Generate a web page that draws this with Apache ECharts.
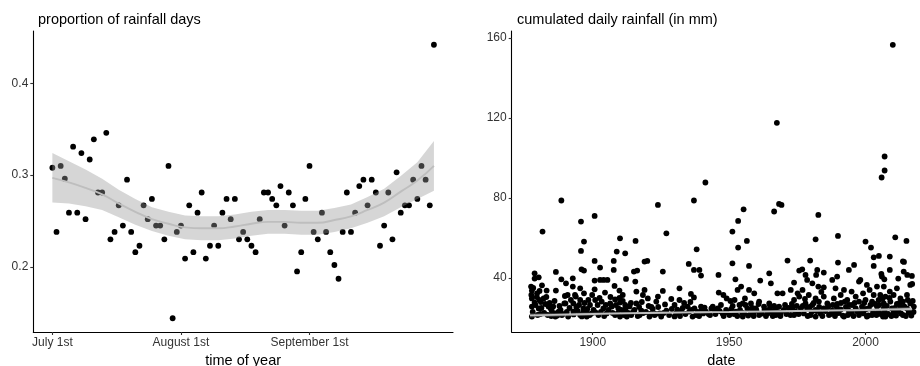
<!DOCTYPE html>
<html><head><meta charset="utf-8">
<script src="https://cdn.jsdelivr.net/npm/echarts@6/dist/echarts.min.js"></script>
<style>html,body{margin:0;padding:0;background:#fff}#c{width:920px;height:366px}</style>
</head><body><div id="c"></div>
<script>
// ---- left panel: proportion of rainfall days (day index 0 = July 1st) ----
const dayTickValues = [0, 31, 62];
const dayTickLabels = ['July 1st', 'August 1st', 'September 1st'];
const propTicks = [0.2, 0.3, 0.4];
const propValues = [
  0.308,0.238,0.310,0.296,0.259,0.331,0.259,0.324,0.252,0.317,
  0.339,0.281,0.281,0.346,0.230,0.238,0.267,0.245,0.295,0.238,
  0.216,0.223,0.267,0.252,0.274,0.245,0.245,0.230,0.310,0.144,
  0.238,0.245,0.209,0.267,0.216,0.259,0.281,0.209,0.223,0.245,
  0.223,0.259,0.274,0.252,0.274,0.230,0.238,0.230,0.223,0.216,
  0.252,0.281,0.281,0.274,0.267,0.288,0.245,0.281,0.267,0.195,
  0.216,0.274,0.310,0.238,0.230,0.259,0.238,0.216,0.202,0.187,
  0.238,0.281,0.238,0.259,0.288,0.295,0.267,0.295,0.281,0.223,
  0.245,0.281,0.230,0.303,0.259,0.267,0.267,0.295,0.274,0.310,
  0.295,0.267,0.442];
const propFitDays = [0,4,8,12,16,20,24,28,32,36,40,44,48,52,56,60,64,68,72,76,80,84,88,92];
const propFit = [0.297,0.292,0.286,0.279,0.269,0.260,0.252,0.247,0.243,0.242,0.242,0.244,0.247,0.249,0.249,0.248,0.248,0.251,0.255,0.262,0.270,0.282,0.294,0.310];
const propSe  = [0.027,0.023,0.020,0.017,0.015,0.014,0.013,0.013,0.013,0.013,0.013,0.013,0.013,0.013,0.013,0.013,0.013,0.013,0.013,0.014,0.015,0.017,0.020,0.027];

// ---- right panel: cumulated daily rainfall ----
const yearTicks = [1900, 1950, 2000];
const rainTicks = [40, 80, 120, 160];
const rainPoints = [
 [1888.5,78.7],[1881.6,63.2],[1878.7,42.3],[1886.5,43],[1880.2,40.3],[1878.7,39.7],[1888.5,39.3],[1877.4,35.7],[1881.4,36.3],[1890.2,37.3],
 [1886.5,33.7],[1883.1,33.7],[1877.7,33.7],[1879.6,32.3],[1882,29.8],[1877.7,29.8],[1878.7,27.7],[1880.4,29],[1877.7,25.7],[1883.8,25.7],
 [1890,27.3],[1885,23.5],[1886.3,22.3],[1887.5,23.2],[1877.7,20.7],[1884.8,21],[1886.3,20.7],[1888.7,21.5],[1891,20.7],[1880.2,24.8],
 [1882.6,27],[1884.6,24.8],[1889.6,27.3],[1890.8,31.5],[1879.5,30.5],[1881,28],[1878,23],[1880.8,22],
 [1900.7,71],[1895.7,68.2],[1896.8,58.2],[1910,59.8],[1895.7,53.5],[1908.8,53.2],[1911.9,52.3],[1900.7,48.5],[1907.7,48.5],[1902.7,45.2],
 [1895.9,44.3],[1896.8,43.7],[1907.7,44],[1892.7,39.8],[1912.2,39.5],[1900.7,38.7],[1902.7,39],[1904,39],[1905.4,39],[1892.7,35.7],
 [1895.4,34.8],[1896.8,32.3],[1900.7,34.3],[1908,36],[1909.8,33.7],[1911,31.5],[1904.5,32.7],[1893.5,31.5],[1892.9,27.3],[1895.4,29],
 [1898.4,29],[1900.9,29],[1903.3,28.2],[1906.4,27.3],[1908.2,29.3],[1910,27.7],[1911.9,26.5],[1896.6,24.8],[1900.3,24],[1903.9,24.8],
 [1907,25.7],[1909.4,24.8],[1911.3,23.7],[1892.9,23.2],[1895.4,21.5],[1897.8,20.7],[1902.1,21.5],[1905.1,22.3],[1908.2,21.5],[1910,20.7],
 [1912.5,20.7],[1896.5,22.8],[1899.5,22.2],[1894,25.5],[1893.8,30.7],[1897.8,22.7],[1898.9,21.5],
 [1923.9,76.5],[1927,62.3],[1915.7,58.5],[1919,48.2],[1920,48.5],[1925.7,43.2],[1915.1,43.2],[1916.3,43.7],[1915.6,38.2],[1931.8,34.8],
 [1916,33.2],[1919,34],[1918.4,31.5],[1920.2,29.8],[1923.9,30.7],[1925.7,33.5],[1928.8,29.5],[1931.8,29],[1923.3,28.2],[1930,26.5],
 [1916,27.3],[1915.3,24],[1917.8,23.7],[1920.8,20.7],[1922.7,21.5],[1924.5,22.3],[1927,23.7],[1930.6,22.3],[1932.5,23.2],[1914.1,21.5],
 [1917.2,21.5],[1925.1,20.7],[1929,24.5],[1921.5,25.5],[1913.5,25.8],[1918.5,22.5],
 [1941.3,87.7],[1937.1,78.7],[1955.3,74.3],[1953.3,68.5],[1951.2,63.2],[1953.3,55.2],[1938.1,54.3],[1935.2,47],[1951.2,47.3],[1937.1,44],
 [1939.1,44],[1939.7,41.2],[1946.1,41.5],[1952.3,39.3],[1936,32],[1937.1,30.3],[1946.2,32.7],[1947.9,31.5],[1949.1,29.8],[1953.1,34],
 [1954.4,35.7],[1934.8,25.7],[1937.3,24.8],[1939.7,25.7],[1944,25.7],[1945.8,24.8],[1948.9,24],[1951.3,26],[1953.8,26.5],[1955,27.3],
 [1935.4,23.2],[1937.9,21.5],[1941.5,23.2],[1944.6,24],[1947.6,22.3],[1950.1,21.5],[1952.5,23.2],[1955,20.7],[1936.6,20.7],[1942.5,22],
 [1950.5,28.5],[1933.5,27.5],
 [1968.3,77],[1969.2,76.5],[1966.5,73.2],[1956.5,58.5],[1971.4,48.7],[1957.3,46],[1964.7,42.3],[1975.7,43.7],[1961.4,38.7],[1965.3,37.3],
 [1973.8,37.7],[1957.3,34],[1959.2,32.3],[1967.7,32.3],[1969.6,32.3],[1972.6,34],[1975.1,32.3],[1955.8,29.8],[1958,27.3],[1961,28.2],
 [1964.7,27.3],[1966.5,26],[1973.8,29],[1975.7,30.7],[1956.7,24.8],[1959.8,24.8],[1962.8,25.7],[1964.7,24],[1968.3,25.7],[1973.2,24.8],
 [1976.3,24.8],[1955.5,22.3],[1958,22.7],[1961,21.5],[1964.1,22.3],[1967.1,21.5],[1969,22.7],[1973.8,21.5],[1974.4,23.2],[1959.2,23.2],
 [1967.5,117.5],[1970.5,26.5],[1966,21],
 [1982.7,71.5],[1981.7,59.3],[1989.9,61],[1979.7,48.7],[1989.9,47.7],[1995.8,46.5],[1993.9,44],[1976.8,44.3],[1978,41.5],[1982.3,44],
 [1984.7,42.7],[1981.9,41.5],[1987.8,39],[1989.6,40.7],[1997.6,38.2],[1978.6,39],[1980.5,37.3],[1982.7,35.7],[1984.7,35.3],[1989,34.8],
 [1992.1,34],[1994.9,33.2],[1976.9,34],[1979.2,31.5],[1981.7,29.8],[1984.7,30.7],[1988.4,29.8],[1990.9,31.5],[1993.3,29],[1996.4,30.7],
 [1978,27.3],[1980.5,26.5],[1982.9,28.2],[1986,27.3],[1989.6,27],[1992.4,28.2],[1995.1,26.5],[1997.6,28.2],[1978.6,24.8],[1981.7,24],
 [1984.7,24.8],[1987.8,23.7],[1990.9,24.3],[1993.9,23.7],[1996.4,24.8],[1977.4,22.3],[1979.9,21.5],[1981.7,20.7],[1983.5,22.3],[1986.6,21.5],
 [1989,22.3],[1992.1,20.7],[1994.5,22.3],[1997.6,21.5],
 [2000,58.2],[2002,55.2],[2010.9,60.3],[2015,58.5],[2003,50.3],[2004.9,51],[2008.9,50.7],[2003,46],[2013.7,48.3],[2014,43.2],
 [2008.9,44],[1998.1,39],[2000.5,36.5],[2006,40.7],[2006.9,39.3],[2015.3,41.5],[2017,41],[2001.5,34],[2004.2,35.7],[2006.7,35.7],
 [2008.9,33.2],[2011.5,34.8],[2016.4,36.5],[1999.1,32.3],[2003,31.5],[2005.4,31.5],[2007.3,30.7],[2010.3,31.5],[2012.8,29.8],[2015.2,31.5],
 [2000,29],[2002.4,28.2],[2004.8,29],[2006.7,27.3],[2009.1,28.2],[2011.5,27],[2013.7,28.2],[2016.4,27.3],[1998.7,25.7],[2001.2,24.8],
 [2004.2,25.7],[2006.7,24.8],[2009.7,24.8],[2012.8,25.7],[2015.2,24.8],[2017.7,25.7],[1999.3,22.3],[2002.4,21.5],[2004.8,23.2],[2006.4,20.7],
 [2007.3,20.7],[2010.3,22.7],[2013.7,21.5],[2015.8,22.7],[2000.5,20.7],[2005.9,90.2],[2007,100.7],[2007,93.7],[2010,156.5],[2005.8,42],
 [2012,39.7],[2014.1,48],[2017.1,37],
 [1877.5,31.5],[1878.2,35],[1879,26.5],[1879.8,21.5],[1880.5,33.5],[1881.2,25],[1882.2,22.5],[1883,30.5],[1883.5,21.5],[1884.2,27.5],
 [1885.5,25.8],[1886,28.5],[1887,21.2],[1887.8,26],[1888.2,24],[1889,22],[1889.8,31],[1890.5,23],[1891.5,25],[1892,29],
 [1893,21.8],[1894.5,23.5],[1895,26.5],[1896,20.8],[1897,27.5],[1898,24.5],[1899,26.5],[1899.8,31.5],[1901,22.8],[1901.8,26.5],
 [1902.5,30],[1903,23],[1904.2,21],[1904.8,26.5],[1905.8,24],[1906.5,30.5],[1907.3,22.5],[1908.5,26.5],[1909,22.2],[1909.8,30],
 [1910.5,24],[1911,28.5],[1911.5,21.5],[1912,24.5],
 [1913,22.5],[1914,27.5],[1914.8,23],[1916.5,21],[1917,25.5],[1918,28],[1919.5,23],[1920.5,26],[1921,22],[1922,24.5],
 [1923,22],[1924,25.5],[1926,22.5],[1926.5,26.8],[1928,21.5],[1930,20.8],[1931,24.2],[1932,21],[1933,25],
 [1934,22],[1935.8,28],[1936.2,24],[1938.5,23],[1939,21],[1940,24.5],[1940.5,22.3],[1941,25.2],[1943,21.5],[1943.5,24.8],
 [1945,22],[1946.5,23.5],[1947,26.5],[1948,21],[1949.5,22.8],[1950.8,24.5],[1951.8,22],[1952,29],[1953,21],[1954,24],[1954.8,22.5],
 [1956,26.5],[1957,21.2],[1958.5,25],[1959,21],[1960,23.8],[1960.8,27],[1962,22.2],[1963,24.2],[1963.5,21],[1965,25.5],
 [1965.8,23],[1966.8,24.5],[1967.8,23],[1968.8,21],[1970,24],[1971,22],[1971.8,25],[1972.5,21.5],[1973,27],[1974.8,26],[1975.5,22],
 [1977,26],[1977.8,29.5],[1978.8,21],[1979.5,25.5],[1980.3,23.3],[1981,27.5],[1982,23.5],[1983,25.5],[1983.8,33],[1984.2,21],
 [1985.3,23.5],[1986.3,25.5],[1987.2,22],[1988,26.5],[1988.8,21],[1989.5,25.2],[1990.2,22.5],[1991,27.5],[1991.7,21.2],[1992.8,25.5],
 [1993.5,21.5],[1994,26.5],[1995,23],[1995.6,21],[1996,27.5],[1997,23.3],
 [1998.5,23.5],[1999.5,27.5],[2000.2,24.5],[2001,21.3],[2001.8,26.5],[2002.8,23],[2003.5,27],[2004,21.5],[2005,26.5],[2005.5,22],
 [2006.2,29.5],[2007,23.3],[2007.8,26],[2008.3,22],[2008.8,30],[2009.5,21],[2010.8,25],[2011.2,21.2],[2012,23.5],[2012.5,27.5],
 [2013,22.3],[2014.2,25.8],[2014.8,21],[2015.5,29],[2016,23.3],[2016.8,21.2],[2017.3,28.5],[2017.6,23]
];
const rainFitYears = [1877,1890,1900,1910,1920,1930,1940,1950,1960,1970,1980,1990,2000,2010,2017];
const rainFit = [21.3,21.7,22.0,22.3,22.5,22.7,22.9,23.0,23.2,23.4,23.6,23.8,24.0,24.3,24.5];
const rainSe  = [1.0,0.8,0.7,0.6,0.6,0.5,0.5,0.5,0.5,0.5,0.5,0.6,0.6,0.8,1.0];

const FONT = 'Liberation Sans, Arial, sans-serif';
const bandFill = 'rgba(153,153,153,0.4)';
const lineCol = '#bebebe';

function bandSeries(xs, fit, se, axisIdx) {
  return {
    type: 'custom', xAxisIndex: axisIdx, yAxisIndex: axisIdx, z: 3, silent: true,
    data: xs.map((x, i) => [x, fit[i]]),
    renderItem: function (params, api) {
      if (params.dataIndex !== 0) return null;
      const pts = [];
      for (let i = 0; i < xs.length; i++) pts.push(api.coord([xs[i], fit[i] + se[i]]));
      for (let i = xs.length - 1; i >= 0; i--) pts.push(api.coord([xs[i], fit[i] - se[i]]));
      return { type: 'polygon', shape: { points: pts }, style: { fill: bandFill } };
    }
  };
}

function axisCommon() {
  return {
    axisLine: { show: true, onZero: false, lineStyle: { color: '#000', width: 1.1 } },
    axisTick: { show: true, length: 3, lineStyle: { color: '#333', width: 1.1 } },
    splitLine: { show: false },
    nameTextStyle: { fontFamily: FONT, fontSize: 14.5, color: '#000' }
  };
}

const chart = echarts.init(document.getElementById('c'), null, { renderer: 'canvas' });
const xa0 = Object.assign(axisCommon(), {
  type: 'value', gridIndex: 0, min: -4.6, max: 96.6,
  name: 'time of year', nameLocation: 'middle', nameGap: 19
});
xa0.axisTick.customValues = dayTickValues;
xa0.axisLabel = { customValues: dayTickValues, formatter: v => dayTickLabels[dayTickValues.indexOf(v)], fontFamily: FONT, fontSize: 12, color: '#333', margin: 5 };

const ya0 = Object.assign(axisCommon(), { type: 'value', gridIndex: 0, min: 0.129, max: 0.457 });
ya0.axisTick.customValues = propTicks;
ya0.axisLabel = { customValues: propTicks, formatter: v => v.toFixed(1), fontFamily: FONT, fontSize: 12, color: '#333', margin: 5 };

const xa1 = Object.assign(axisCommon(), {
  type: 'value', gridIndex: 1, min: 1870.3, max: 2024,
  name: 'date', nameLocation: 'middle', nameGap: 19
});
xa1.axisTick.customValues = yearTicks;
xa1.axisLabel = { customValues: yearTicks, formatter: v => String(v), fontFamily: FONT, fontSize: 12, color: '#333', margin: 5 };

const ya1 = Object.assign(axisCommon(), { type: 'value', gridIndex: 1, min: 13, max: 163.4 });
ya1.axisTick.customValues = rainTicks;
ya1.axisLabel = { customValues: rainTicks, formatter: v => String(v), fontFamily: FONT, fontSize: 12, color: '#333', margin: 5 };

chart.setOption({
  backgroundColor: '#fff',
  animation: false,
  title: [
    { text: 'proportion of rainfall days', left: 33, top: 7, textStyle: { fontFamily: FONT, fontSize: 14.5, fontWeight: 'normal', color: '#000' } },
    { text: 'cumulated daily rainfall (in mm)', left: 512, top: 7, textStyle: { fontFamily: FONT, fontSize: 14.5, fontWeight: 'normal', color: '#000' } }
  ],
  grid: [
    { left: 33.3, top: 31, width: 419.7, height: 301, outerBoundsMode: 'none', containLabel: false },
    { left: 511.7, top: 31, width: 419.3, height: 301, outerBoundsMode: 'none', containLabel: false }
  ],
  xAxis: [xa0, xa1],
  yAxis: [ya0, ya1],
  series: [
    { type: 'scatter', xAxisIndex: 0, yAxisIndex: 0, z: 2, symbolSize: 5.8,
      itemStyle: { color: '#000', opacity: 1 }, data: propValues.map((v, i) => [i, v]) },
    bandSeries(propFitDays, propFit, propSe, 0),
    { type: 'line', xAxisIndex: 0, yAxisIndex: 0, z: 4, smooth: true, showSymbol: false,
      lineStyle: { color: lineCol, width: 1.9 }, data: propFitDays.map((d, i) => [d, propFit[i]]) },
    { type: 'scatter', xAxisIndex: 1, yAxisIndex: 1, z: 2, symbolSize: 5.8,
      itemStyle: { color: '#000', opacity: 1 }, data: rainPoints },
    bandSeries(rainFitYears, rainFit, rainSe, 1),
    { type: 'line', xAxisIndex: 1, yAxisIndex: 1, z: 4, smooth: true, showSymbol: false,
      lineStyle: { color: lineCol, width: 1.9 }, data: rainFitYears.map((d, i) => [d, rainFit[i]]) }
  ]
});
</script></body></html>
